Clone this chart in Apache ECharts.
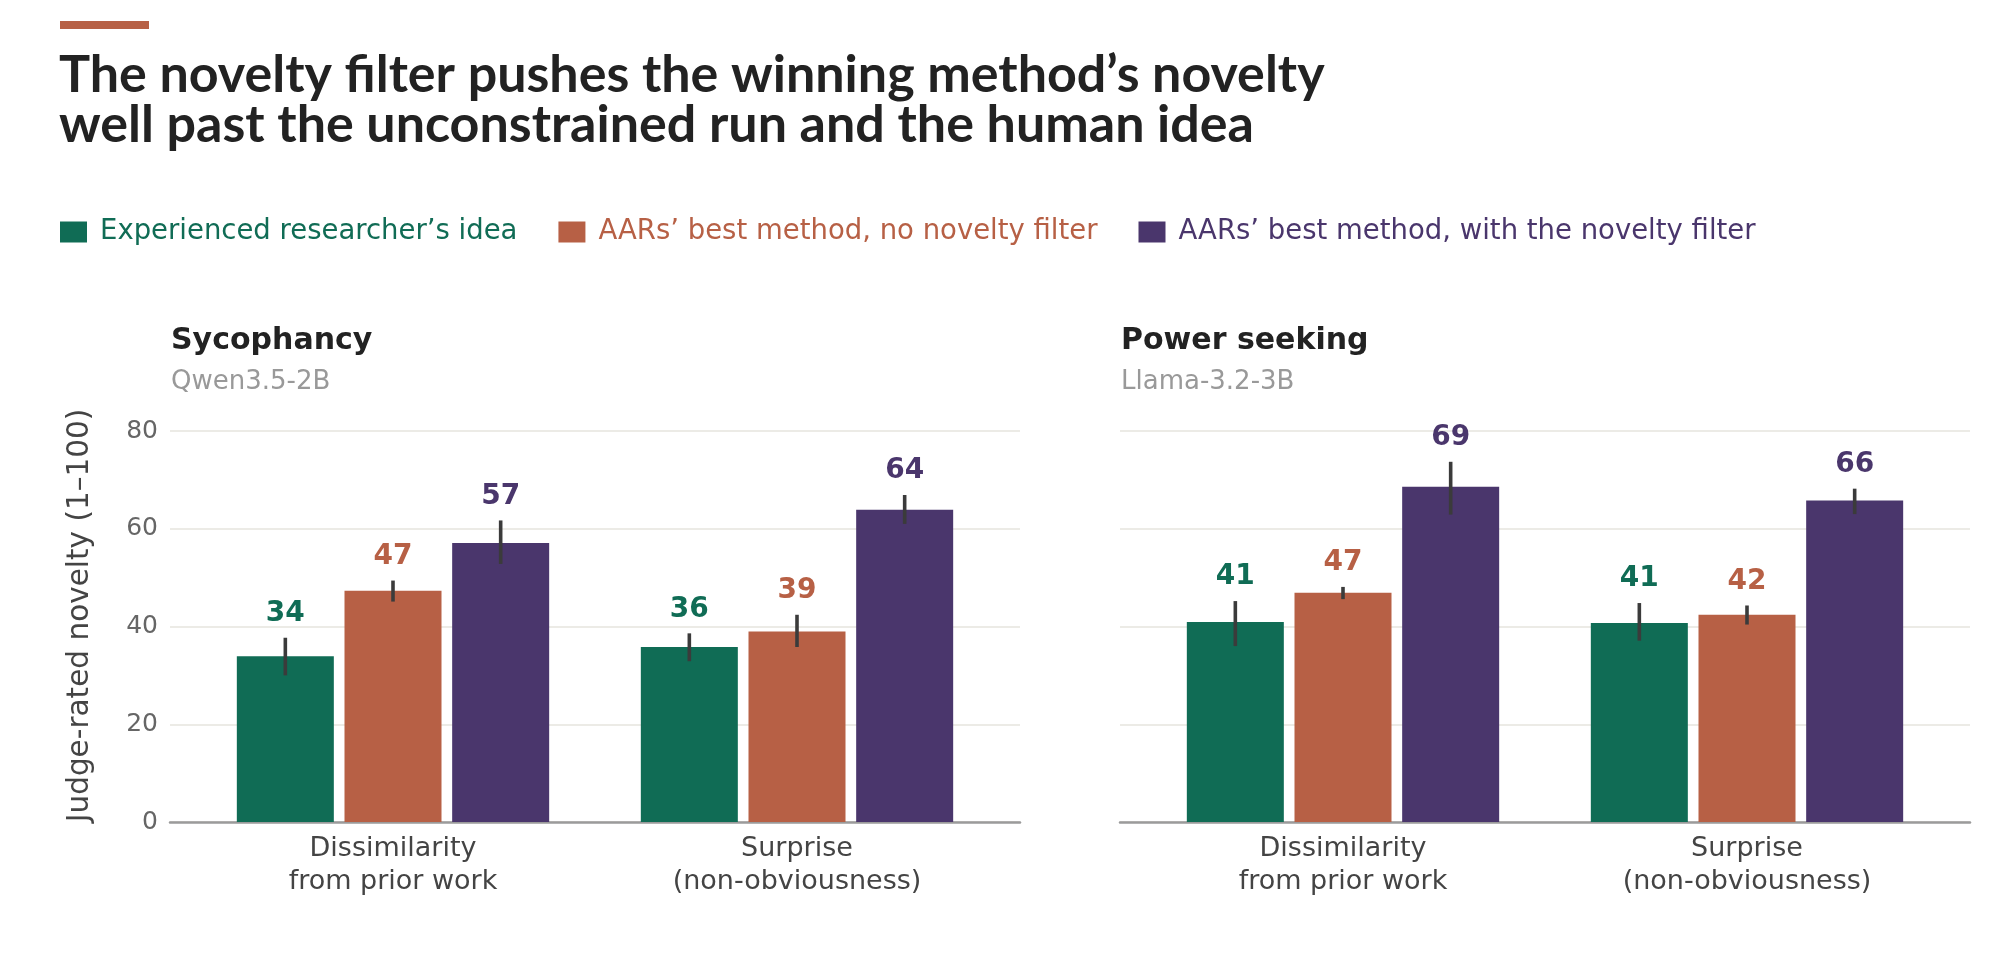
<!DOCTYPE html>
<html>
<head>
<meta charset="utf-8">
<title>Novelty filter</title>
<script src="https://cdn.jsdelivr.net/npm/echarts@6/dist/echarts.min.js"></script>
<style>
  html, body { margin: 0; padding: 0; background: #fff; }
  #chart { width: 1999px; height: 968px; }
</style>
</head>
<body>
<div id="chart"></div>
<script>
// data
const categories = ["Dissimilarity\nfrom prior work", "Surprise\n(non-obviousness)"];
const methods = [
  "Experienced researcher’s idea",
  "AARs’ best method, no novelty filter",
  "AARs’ best method, with the novelty filter"
];
const colors = ["#106c55", "#b76045", "#4a366c"];
const yTicks = [0, 20, 40, 60, 80];

// Sycophancy (Qwen3.5-2B)
const sycMeans = [
  [33.9, 35.8],
  [47.3, 39.0],
  [57.1, 63.9]
];
const sycLow = [
  [30.0, 32.9],
  [45.1, 35.8],
  [52.8, 61.0]
];
const sycHigh = [
  [37.7, 38.6],
  [49.4, 42.4],
  [61.7, 66.9]
];

// Power seeking (Llama-3.2-3B)
const powMeans = [
  [40.9, 40.7],
  [46.9, 42.4],
  [68.6, 65.8]
];
const powLow = [
  [36.0, 37.1],
  [45.6, 40.4],
  [62.9, 63.0]
];
const powHigh = [
  [45.2, 44.8],
  [48.1, 44.3],
  [73.7, 68.2]
];

const FONT = "DejaVu Sans";
const TITLE_FONT = "Lato";
const BAR_W = 97;
const BAR_GAP_PCT = 11;
const BAR_STEP = BAR_W * (1 + BAR_GAP_PCT / 100);

// rows for the error-bar / label series: [cat, method, mean, low, high]
function errRows(means, low, high) {
  const rows = [];
  means.forEach((vals, m) => {
    vals.forEach((v, c) => rows.push([c, m, v, low[m][c], high[m][c]]));
  });
  return rows;
}

function renderErr(params, api) {
  const cat = api.value(0);
  const m = api.value(1);
  const mean = api.value(2);
  const x = api.coord([cat, 0])[0] + (m - 1) * BAR_STEP;
  const yLo = api.coord([cat, api.value(3)])[1];
  const yHi = api.coord([cat, api.value(4)])[1];
  return {
    type: "group",
    children: [
      {
        type: "line",
        shape: { x1: x, y1: yLo, x2: x, y2: yHi },
        style: { stroke: "#3b3b3b", lineWidth: 3.6 }
      },
      {
        type: "text",
        x: x,
        y: yHi - 24,
        style: {
          text: String(Math.round(mean)),
          fill: colors[m],
          font: "bold 28px '" + FONT + "'",
          align: "center",
          verticalAlign: "middle"
        }
      }
    ]
  };
}

const panels = [
  { frameLeft: 170, title: "Sycophancy", sub: "Qwen3.5-2B", means: sycMeans, low: sycLow, high: sycHigh, yLabels: true },
  { frameLeft: 1120, title: "Power seeking", sub: "Llama-3.2-3B", means: powMeans, low: powLow, high: powHigh, yLabels: false }
];

const FRAME_W = 850;
const INSET = 21;
const GRID_TOP = 431;
const GRID_BOTTOM = 146;

const grid = [];
const xAxis = [];
const yAxis = [];
const series = [];
const titles = [
  {
    text: "The novelty filter pushes the winning method’s novelty\nwell past the unconstrained run and the human idea",
    left: 59,
    top: 50,
    padding: 0,
    textStyle: { fontFamily: TITLE_FONT, fontSize: 52, fontWeight: "bold", color: "#222", lineHeight: 50 }
  }
];

panels.forEach((p, i) => {
  const g0 = i * 2, g1 = i * 2 + 1;
  // frame grid: full-width gridlines and baseline
  grid.push({ left: p.frameLeft, width: FRAME_W, top: GRID_TOP, bottom: GRID_BOTTOM });
  // bar grid: inset so the groups sit off the edges
  grid.push({ left: p.frameLeft + INSET, width: FRAME_W - 2 * INSET, top: GRID_TOP, bottom: GRID_BOTTOM });

  xAxis.push({
    gridIndex: g0, type: "value", min: 0, max: 1,
    axisLine: { show: true, lineStyle: { color: "#9b9b9b", width: 2.5 } },
    axisTick: { show: false }, axisLabel: { show: false }, splitLine: { show: false }
  });
  xAxis.push({
    gridIndex: g1, type: "category", data: categories,
    axisLine: { show: false }, axisTick: { show: false },
    axisLabel: { fontFamily: FONT, fontSize: 27, lineHeight: 33, color: "#444", margin: 10 }
  });

  yAxis.push({
    gridIndex: g0, type: "value", min: 0, max: 80, interval: 20,
    axisLine: { show: false }, axisTick: { show: false },
    axisLabel: { show: p.yLabels, fontFamily: FONT, fontSize: 25, color: "#666", margin: 12 },
    splitLine: { show: true, lineStyle: { color: "#ecebe6", width: 2 } },
    name: p.yLabels ? "Judge-rated novelty (1–100)" : "",
    nameLocation: "middle",
    nameGap: 75,
    nameTextStyle: { fontFamily: FONT, fontSize: 29.5, color: "#444", padding: [0, 0, 0, 22] }
  });
  yAxis.push({ gridIndex: g1, type: "value", min: 0, max: 80, show: false });

  methods.forEach((name, m) => {
    series.push({
      type: "bar",
      name: name,
      xAxisIndex: g1, yAxisIndex: g1,
      data: p.means[m],
      barWidth: BAR_W,
      barGap: BAR_GAP_PCT + "%",
      itemStyle: { color: colors[m] },
      emphasis: { disabled: true }
    });
  });
  series.push({
    type: "custom",
    name: "err" + i,
    xAxisIndex: g1, yAxisIndex: g1,
    renderItem: renderErr,
    data: errRows(p.means, p.low, p.high),
    encode: { x: 0, y: 4 },
    z: 5,
    silent: true
  });

  titles.push({
    text: p.title,
    subtext: p.sub,
    left: p.frameLeft + 1,
    top: 326,
    padding: 0,
    itemGap: 13,
    textStyle: { fontFamily: FONT, fontSize: 30, fontWeight: "bold", color: "#222" },
    subtextStyle: { fontFamily: FONT, fontSize: 26, color: "#999" }
  });
});

const chart = echarts.init(document.getElementById("chart"));
chart.setOption({
  animation: false,
  backgroundColor: "#fff",
  title: titles,
  graphic: [
    { type: "rect", left: 60, top: 21, shape: { width: 89, height: 8 }, style: { fill: "#b76045" } }
  ],
  legend: {
    left: 60,
    top: 218,
    padding: 0,
    itemWidth: 27,
    itemHeight: 21,
    itemGap: 41,
    icon: "rect",
    selectedMode: false,
    textStyle: { fontFamily: FONT, fontSize: 27.5, lineHeight: 21, padding: [0, 0, 0, 8] },
    data: methods.map((n, m) => ({ name: n, textStyle: { color: colors[m] } }))
  },
  grid: grid,
  xAxis: xAxis,
  yAxis: yAxis,
  series: series
});
</script>
</body>
</html>
